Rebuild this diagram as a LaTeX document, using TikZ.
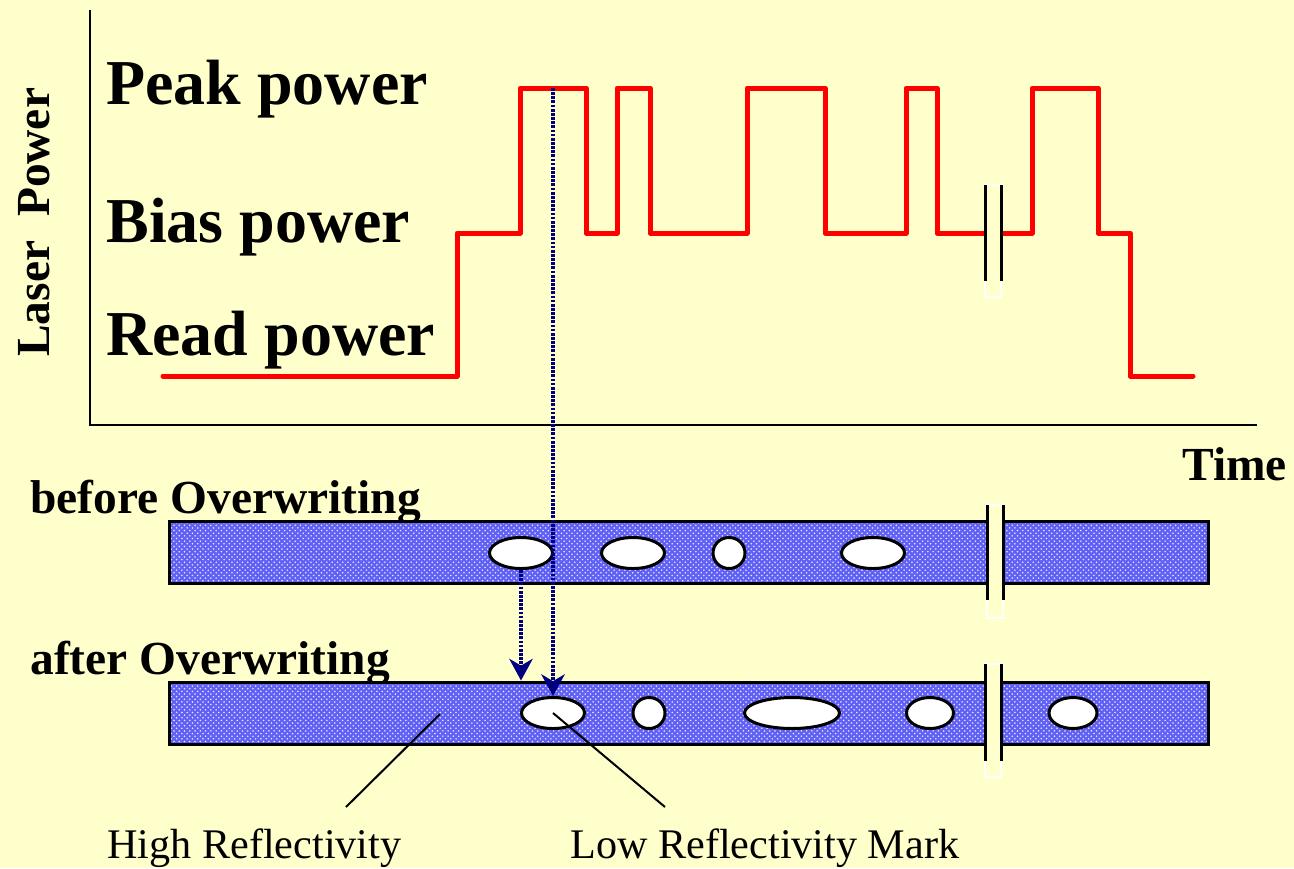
\documentclass[tikz,border=0pt]{standalone}
\usepackage{fontspec}
\setmainfont{Liberation Serif}
\usepackage{tikz}
\usetikzlibrary{shapes.geometric, patterns, arrows.meta, positioning}
\definecolor{bgyellow}{RGB}{255,255,204}
\definecolor{stripblue}{RGB}{96,96,245}
\definecolor{navy}{RGB}{0,0,128}
% broken-axis gap: #1 = x, #2 = top, #3 = end of black sides, #4 = bottom
\newcommand\Gap[4]{
  \draw[white, line width=0.3mm, fill=bgyellow] (#1-8,#2) rectangle (#1+8,#4);
  \draw[line width=0.6mm] (#1-8,#2) -- (#1-8,#3) (#1+8,#2) -- (#1+8,#3);
}

\begin{document}
\begin{tikzpicture}[x=0.2mm, y=-0.2mm,
    lvl/.style={inner sep=0pt, font=\fontsize{36.4}{40}\selectfont\bfseries},
    axislbl/.style={inner sep=0pt, font=\fontsize{27}{30}\selectfont\bfseries},
    note/.style={inner sep=0pt, font=\fontsize{24}{28}\selectfont},
    wave/.style={red, line width=1mm, line cap=round, line join=round},
    strip/.style={draw, line width=0.6mm, inner sep=0pt, preaction={fill=stripblue},
      pattern=crosshatch dots, pattern color=white!85!stripblue,
      minimum width=207.8mm, minimum height=12.4mm},
    pit/.style={ellipse, draw, line width=0.6mm, fill=white, inner sep=0pt, minimum height=6.2mm},
    probe/.style={navy, line width=0.65mm, dash pattern=on 0.55mm off 0.28mm,
      -{Stealth[length=4.4mm, width=4.8mm, line width=0pt]}}]
  \path[use as bounding box, fill=bgyellow] (0,0) rectangle (1294,868);

  % axes
  \coordinate (top) at (90,10);
  \coordinate (o) at (90,425);
  \coordinate (right) at (1257,425);
  \draw[line width=0.4mm] (top) -- (o) -- (right);

  % power levels
  \node[lvl, anchor=base west] (peak) at (106,104) {Peak power};
  \node[lvl, anchor=base west] (bias) at (106,242) {Bias power};
  \node[lvl, anchor=base west] (read) at (106,355) {Read power};
  \node[axislbl, rotate=90, anchor=base west] (ylab) at (49,357) {Laser~~Power};
  \node[axislbl, anchor=base west] (time) at (1182,480) {Time};

  % laser pulse train
  \draw[wave] (163,376) -- (457,376) -- (457,233) -- (520,233) -- (520,88) -- (586,88)
    -- (586,233) -- (617,233) -- (617,88) -- (650,88) -- (650,233) -- (747,233)
    -- (747,88) -- (825,88) -- (825,233) -- (906,233) -- (906,88) -- (937,88)
    -- (937,233) -- (1032,233) -- (1032,88) -- (1098,88) -- (1098,233) -- (1130,233)
    -- (1130,376) -- (1193,376);
  \coordinate (pk) at (553,88);
  \Gap{993}{185}{281}{297}

  % recording track
  \node[axislbl, anchor=base west] (lbefore) at (30,513) {before Overwriting};
  \node[axislbl, anchor=base west] (lafter) at (30,674) {after Overwriting};
  \node[strip] (before) at (689,552) {};
  \node[strip] (after) at (689,713) {};
  \foreach \n/\x/\w in {1/521/63, 2/633/63, 3/729/32, 4/873/63}
    \node[pit, minimum width=\w*0.2mm] (b\n) at (\x,553) {};
  \foreach \n/\x/\w in {1/553/63, 2/649/32, 3/792/95, 4/930/47, 5/1073/48}
    \node[pit, minimum width=\w*0.2mm] (a\n) at (\x,713) {};
  \Gap{995}{505}{600}{618}
  \Gap{993}{664}{761}{777}

  % overwrite
  \draw[probe] (pk) -- (a1.north);
  \draw[probe] (b1.south) -- (b1.south |- after.north);

  % labels
  \node[note, anchor=base west] (high) at (107,858) {High Reflectivity};
  \node[note, anchor=base west] (low) at (570,858) {Low Reflectivity Mark};
  \coordinate (hr) at (440,714);
  \coordinate (hrend) at (346,807);
  \coordinate (lrend) at (665,807);
  \draw[line width=0.4mm] (hr) -- (hrend);
  \draw[line width=0.4mm] (a1.center) -- (lrend);
\end{tikzpicture}
\end{document}
